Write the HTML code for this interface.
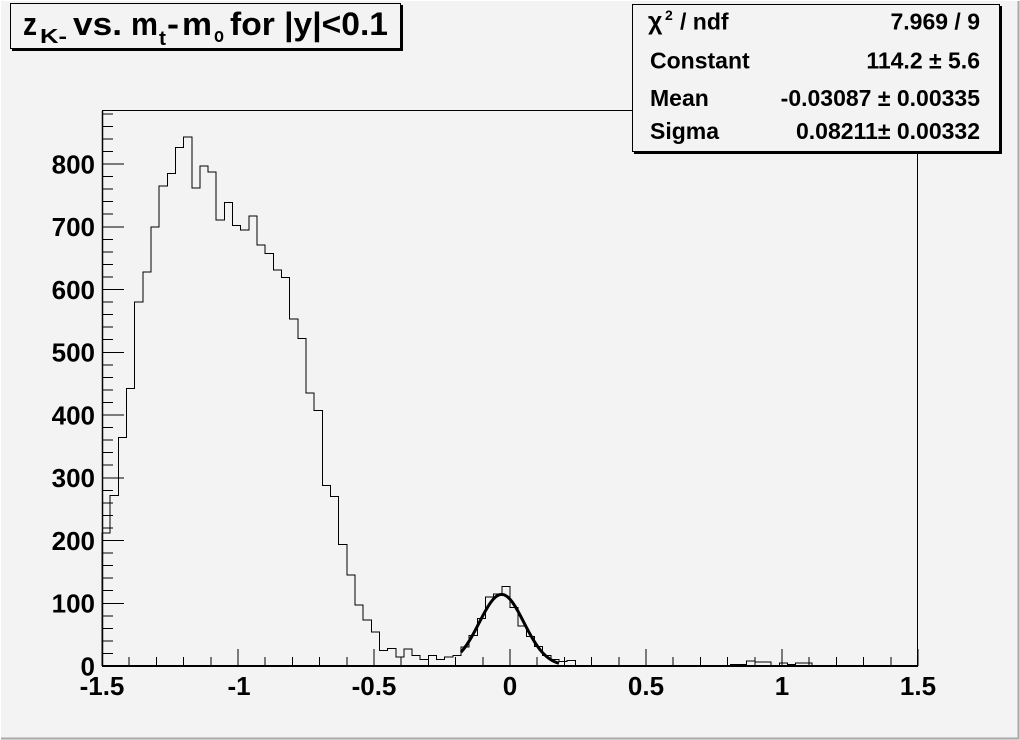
<!DOCTYPE html>
<html>
<head>
<meta charset="utf-8">
<style>
html,body{margin:0;padding:0;background:#f3f3f3;}
svg{display:block;}
text{font-family:"Liberation Sans",Arial,sans-serif;font-weight:bold;fill:#000;}
</style>
</head>
<body>
<svg width="1020" height="740" viewBox="0 0 1020 740" xmlns="http://www.w3.org/2000/svg">
<rect x="0" y="0" width="1020" height="740" fill="#f3f3f3"/>
<!-- canvas bevel -->
<path d="M0.5 739V0.5H1019" stroke="#ffffff" stroke-width="1" fill="none"/>
<path d="M1018.5 1V738.5H1" stroke="#a8a8a8" stroke-width="2" fill="none"/>

<!-- frame -->
<rect x="102.5" y="110.5" width="815" height="555" fill="none" stroke="#000" stroke-width="1" shape-rendering="crispEdges"/>

<!-- histogram -->
<path fill="none" stroke="#000" stroke-width="1" shape-rendering="crispEdges" d="M102,666 V533.0 H110.16 V495.3 H118.32 V437.6 H126.48 V388.6 H134.64 V302.1 H142.8 V271.9 H150.96 V226.8 H159.12 V186.0 H167.28 V173.4 H175.44 V147.7 H183.6 V137.0 H191.76 V187.8 H199.92 V165.9 H208.08 V172.2 H216.24 V219.8 H224.4 V202.3 H232.56 V225.5 H240.72 V229.9 H248.88 V216.1 H257.04 V245.0 H265.2 V253.7 H273.36 V270.0 H281.52 V277.6 H289.68 V319.0 H297.84 V338.4 H306 V393.0 H314.16 V410.6 H322.32 V485.3 H330.48 V496.6 H338.64 V544.3 H346.8 V575.0 H354.96 V605.1 H363.12 V620.2 H371.28 V632.1 H379.44 V650.3 H387.6 V648.4 H395.76 V657.2 H403.92 V649.1 H412.08 V655.3 H420.24 V659.7 H428.4 V655.3 H436.56 V659.7 H444.72 V657.2 H452.88 V655.3 H461.04 V647.2 H469.2 V635.3 H477.36 V618.3 H485.52 V597.0 H493.68 V593.8 H501.84 V586.3 H510 V607.6 H518.16 V625.8 H526.32 V636.5 H534.48 V646.5 H542.64 V655.3 H550.8 V659.7 H558.96 V661.6 H567.12 V660.4 H575.28 V666 H722.16 V665.4 H730.32 V664.7 H746.64 V661.0 H754.8 V662.2 H771.12 V665.4 H779.28 V662.9 H787.44 V664.7 H795.6 V662.9 H811.92 V665.4 H828.24 V666 H918"/>

<!-- gaussian fit -->
<polyline fill="none" stroke="#000" stroke-width="3" stroke-linejoin="round" points="461.04,652.23 463.76,648.94 466.48,645.19 469.2,640.99 471.92,636.37 474.64,631.42 477.36,626.24 480.08,620.96 482.8,615.72 485.52,610.70 488.24,606.08 490.96,602.04 493.68,598.71 496.4,596.26 499.12,594.78 501.84,594.35 504.56,594.97 507.28,596.62 510,599.23 512.72,602.69 515.44,606.85 518.16,611.55 520.88,616.62 523.6,621.88 526.32,627.15 529.04,632.31 531.76,637.20 534.48,641.75 537.2,645.88 539.92,649.55 542.64,652.75 545.36,655.49 548.08,657.78 550.8,659.67 553.52,661.19 556.24,662.40 558.96,663.35"/>

<!-- axes -->
<line x1="102" y1="666" x2="918" y2="666" stroke="#000" stroke-width="2"/>
<line x1="102.5" y1="111" x2="102.5" y2="666" stroke="#000" stroke-width="1.5"/>

<!-- y ticks -->
<path stroke="#000" stroke-width="1" fill="none" shape-rendering="crispEdges" d="
M102 666H124 M102 653.45H113 M102 640.9H113 M102 628.35H113 M102 615.8H113
M102 603.25H124 M102 590.7H113 M102 578.15H113 M102 565.6H113 M102 553.05H113
M102 540.5H124 M102 527.95H113 M102 515.4H113 M102 502.85H113 M102 490.3H113
M102 477.75H124 M102 465.2H113 M102 452.65H113 M102 440.1H113 M102 427.55H113
M102 415H124 M102 402.45H113 M102 389.9H113 M102 377.35H113 M102 364.8H113
M102 352.25H124 M102 339.7H113 M102 327.15H113 M102 314.6H113 M102 302.05H113
M102 289.5H124 M102 276.95H113 M102 264.4H113 M102 251.85H113 M102 239.3H113
M102 226.75H124 M102 214.2H113 M102 201.65H113 M102 189.1H113 M102 176.55H113
M102 164H124 M102 151.45H113 M102 138.9H113 M102 126.35H113 M102 113.8H113"/>

<!-- x ticks -->
<path stroke="#000" stroke-width="1" fill="none" shape-rendering="crispEdges" d="
M102 666V649 M129.2 666V657 M156.4 666V657 M183.6 666V657 M210.8 666V657
M238 666V649 M265.2 666V657 M292.4 666V657 M319.6 666V657 M346.8 666V657
M374 666V649 M401.2 666V657 M428.4 666V657 M455.6 666V657 M482.8 666V657
M510 666V649 M537.2 666V657 M564.4 666V657 M591.6 666V657 M618.8 666V657
M646 666V649 M673.2 666V657 M700.4 666V657 M727.6 666V657 M754.8 666V657
M782 666V649 M809.2 666V657 M836.4 666V657 M863.6 666V657 M890.8 666V657
M918 666V649"/>

<!-- y labels -->
<g font-size="26" text-anchor="end">
<text x="95" y="675.3">0</text>
<text x="95" y="612.5">100</text>
<text x="95" y="549.8">200</text>
<text x="95" y="487">300</text>
<text x="95" y="424.3">400</text>
<text x="95" y="361.5">500</text>
<text x="95" y="298.8">600</text>
<text x="95" y="236">700</text>
<text x="95" y="173.3">800</text>
</g>

<!-- x labels -->
<g font-size="26" text-anchor="middle">
<text x="102" y="695">-1.5</text>
<text x="239" y="695">-1</text>
<text x="374" y="695">-0.5</text>
<text x="510" y="695">0</text>
<text x="646" y="695">0.5</text>
<text x="782" y="695">1</text>
<text x="918" y="695">1.5</text>
</g>

<!-- title box -->
<rect x="10.5" y="3.5" width="390" height="45" fill="#f3f3f3" stroke="#000" stroke-width="1"/>
<path d="M12 50H402V5" stroke="#000" stroke-width="2" fill="none"/>
<text font-size="32" x="23" y="35" textLength="14" lengthAdjust="spacingAndGlyphs">z</text>
<text font-size="20" x="40" y="43" textLength="27" lengthAdjust="spacingAndGlyphs">K-</text>
<text font-size="32" x="73" y="35" textLength="49" lengthAdjust="spacingAndGlyphs">vs.</text>
<text font-size="32" x="131" y="35" textLength="27" lengthAdjust="spacingAndGlyphs">m</text>
<text font-size="20" x="159" y="45" textLength="7" lengthAdjust="spacingAndGlyphs">t</text>
<text font-size="32" x="167" y="35" textLength="12" lengthAdjust="spacingAndGlyphs">-</text>
<text font-size="32" x="182" y="35" textLength="30" lengthAdjust="spacingAndGlyphs">m</text>
<text font-size="20" x="214" y="42" textLength="10" lengthAdjust="spacingAndGlyphs">o</text>
<text font-size="32" x="230" y="35" textLength="158" lengthAdjust="spacingAndGlyphs">for |y|&lt;0.1</text>

<!-- stats box -->
<rect x="632.5" y="4.5" width="367" height="147" fill="#f3f3f3" stroke="#000" stroke-width="1"/>
<path d="M634 153H1001V6" stroke="#000" stroke-width="2" fill="none"/>
<g font-size="23">
<text x="648" y="29.5" font-size="25" font-weight="normal">χ</text>
<text x="665" y="20" font-size="14">2</text>
<text x="680" y="29.5">/ ndf</text>
<text x="650" y="68.3">Constant</text>
<text x="650" y="106">Mean</text>
<text x="650" y="139">Sigma</text>
</g>
<g font-size="23" text-anchor="end">
<text x="980" y="29.5">7.969 / 9</text>
<text x="980" y="68.3">114.2 ± 5.6</text>
<text x="980" y="106">-0.03087 ± 0.00335</text>
<text x="980" y="139">0.08211± 0.00332</text>
</g>
</svg>
</body>
</html>
